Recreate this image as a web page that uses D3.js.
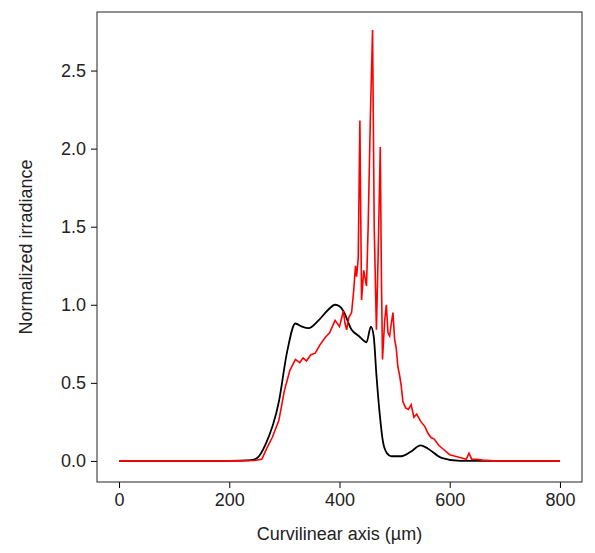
<!DOCTYPE html>
<html>
<head>
<script src="https://d3js.org/d3.v7.min.js"></script>
<style>
body{margin:0;background:#fff;}
text{font-family:"Liberation Sans",Arial,sans-serif;}
</style>
</head>
<body>
<svg id="chart" width="595" height="553"></svg>
<script>
// black curve (reference)
const blackX = [0,200,240,251,265,290,305,320,332,344,362,380,392,400,407,422,435,449,457,462,467,473,479,486,494,512,530,547,560,585,620,800];
const blackY = [0,0,0.005,0.02,0.1,0.38,0.7,0.88,0.86,0.85,0.9,0.97,1.0,0.99,0.96,0.84,0.8,0.76,0.86,0.8,0.55,0.3,0.12,0.05,0.03,0.03,0.06,0.1,0.08,0.02,0,0];
// red curve (measured)
const redX = [0,220,245,259,268,278,290,300,310,320,328,334,340,348,356,364,374,382,392,400,407,410,413,417,422,426,429,431,434,437,440,444,449,452,456,460,463,467,470,474,476,478,482,485,488,491,494,497,500,503,506,509,512,515,520,525,530,535,540,548,555,560,566,572,580,590,600,610,620,630,635,640,650,660,680,700,800];
const redY = [0,0,0.003,0.01,0.08,0.15,0.26,0.45,0.58,0.65,0.63,0.66,0.64,0.68,0.69,0.74,0.79,0.82,0.9,0.86,0.96,0.88,0.84,0.92,0.95,1.1,1.25,1.18,1.3,2.18,1.03,1.22,1.12,1.5,2.2,2.76,1.5,0.84,1.3,2.01,1.2,0.65,0.9,1.0,0.82,0.8,0.88,0.95,0.78,0.72,0.6,0.55,0.48,0.38,0.34,0.33,0.36,0.28,0.3,0.25,0.22,0.18,0.15,0.14,0.1,0.07,0.04,0.03,0.02,0.01,0.05,0.01,0.01,0.005,0,0,0];
const xTicks = [0,200,400,600,800];
const yTicks = [0,0.5,1,1.5,2,2.5];

const svg = d3.select("#chart");
const L = 97, R = 582, T = 12, B = 482;
const x = d3.scaleLinear().domain([-40,840]).range([L,R]);
const y = d3.scaleLinear().domain([-0.135,2.875]).range([B,T]);

svg.append("g").attr("transform",`translate(0,${B})`)
  .call(d3.axisBottom(x).tickValues(xTicks).tickSize(6).tickPadding(5))
  .call(g=>g.select(".domain").remove())
  .call(g=>g.selectAll("text").attr("font-size",18).attr("fill","#222"));
svg.append("g").attr("transform",`translate(${L},0)`)
  .call(d3.axisLeft(y).tickValues(yTicks).tickFormat(d3.format(".1f")).tickSize(6).tickPadding(5))
  .call(g=>g.select(".domain").remove())
  .call(g=>g.selectAll("text").attr("font-size",18).attr("fill","#222"));
svg.append("rect").attr("x",L).attr("y",T).attr("width",R-L).attr("height",B-T)
  .attr("fill","none").attr("stroke","#222").attr("stroke-width",1);

const blk = blackX.map((d,i)=>[d,blackY[i]]);
const red = redX.map((d,i)=>[d,redY[i]]);
svg.append("path").datum(blk).attr("fill","none").attr("stroke","#000").attr("stroke-width",1.8)
  .attr("d",d3.line().x(d=>x(d[0])).y(d=>y(d[1])).curve(d3.curveMonotoneX));
svg.append("path").datum(red).attr("fill","none").attr("stroke","#f00").attr("stroke-width",1.6)
  .attr("d",d3.line().x(d=>x(d[0])).y(d=>y(d[1])));

svg.append("text").attr("x",(L+R)/2).attr("y",540).attr("text-anchor","middle")
  .attr("font-size",18).attr("fill","#222").text("Curvilinear axis (µm)");
svg.append("text").attr("transform",`translate(32,${(T+B)/2}) rotate(-90)`).attr("text-anchor","middle")
  .attr("font-size",18).attr("fill","#222").text("Normalized irradiance");
</script>
</body>
</html>
